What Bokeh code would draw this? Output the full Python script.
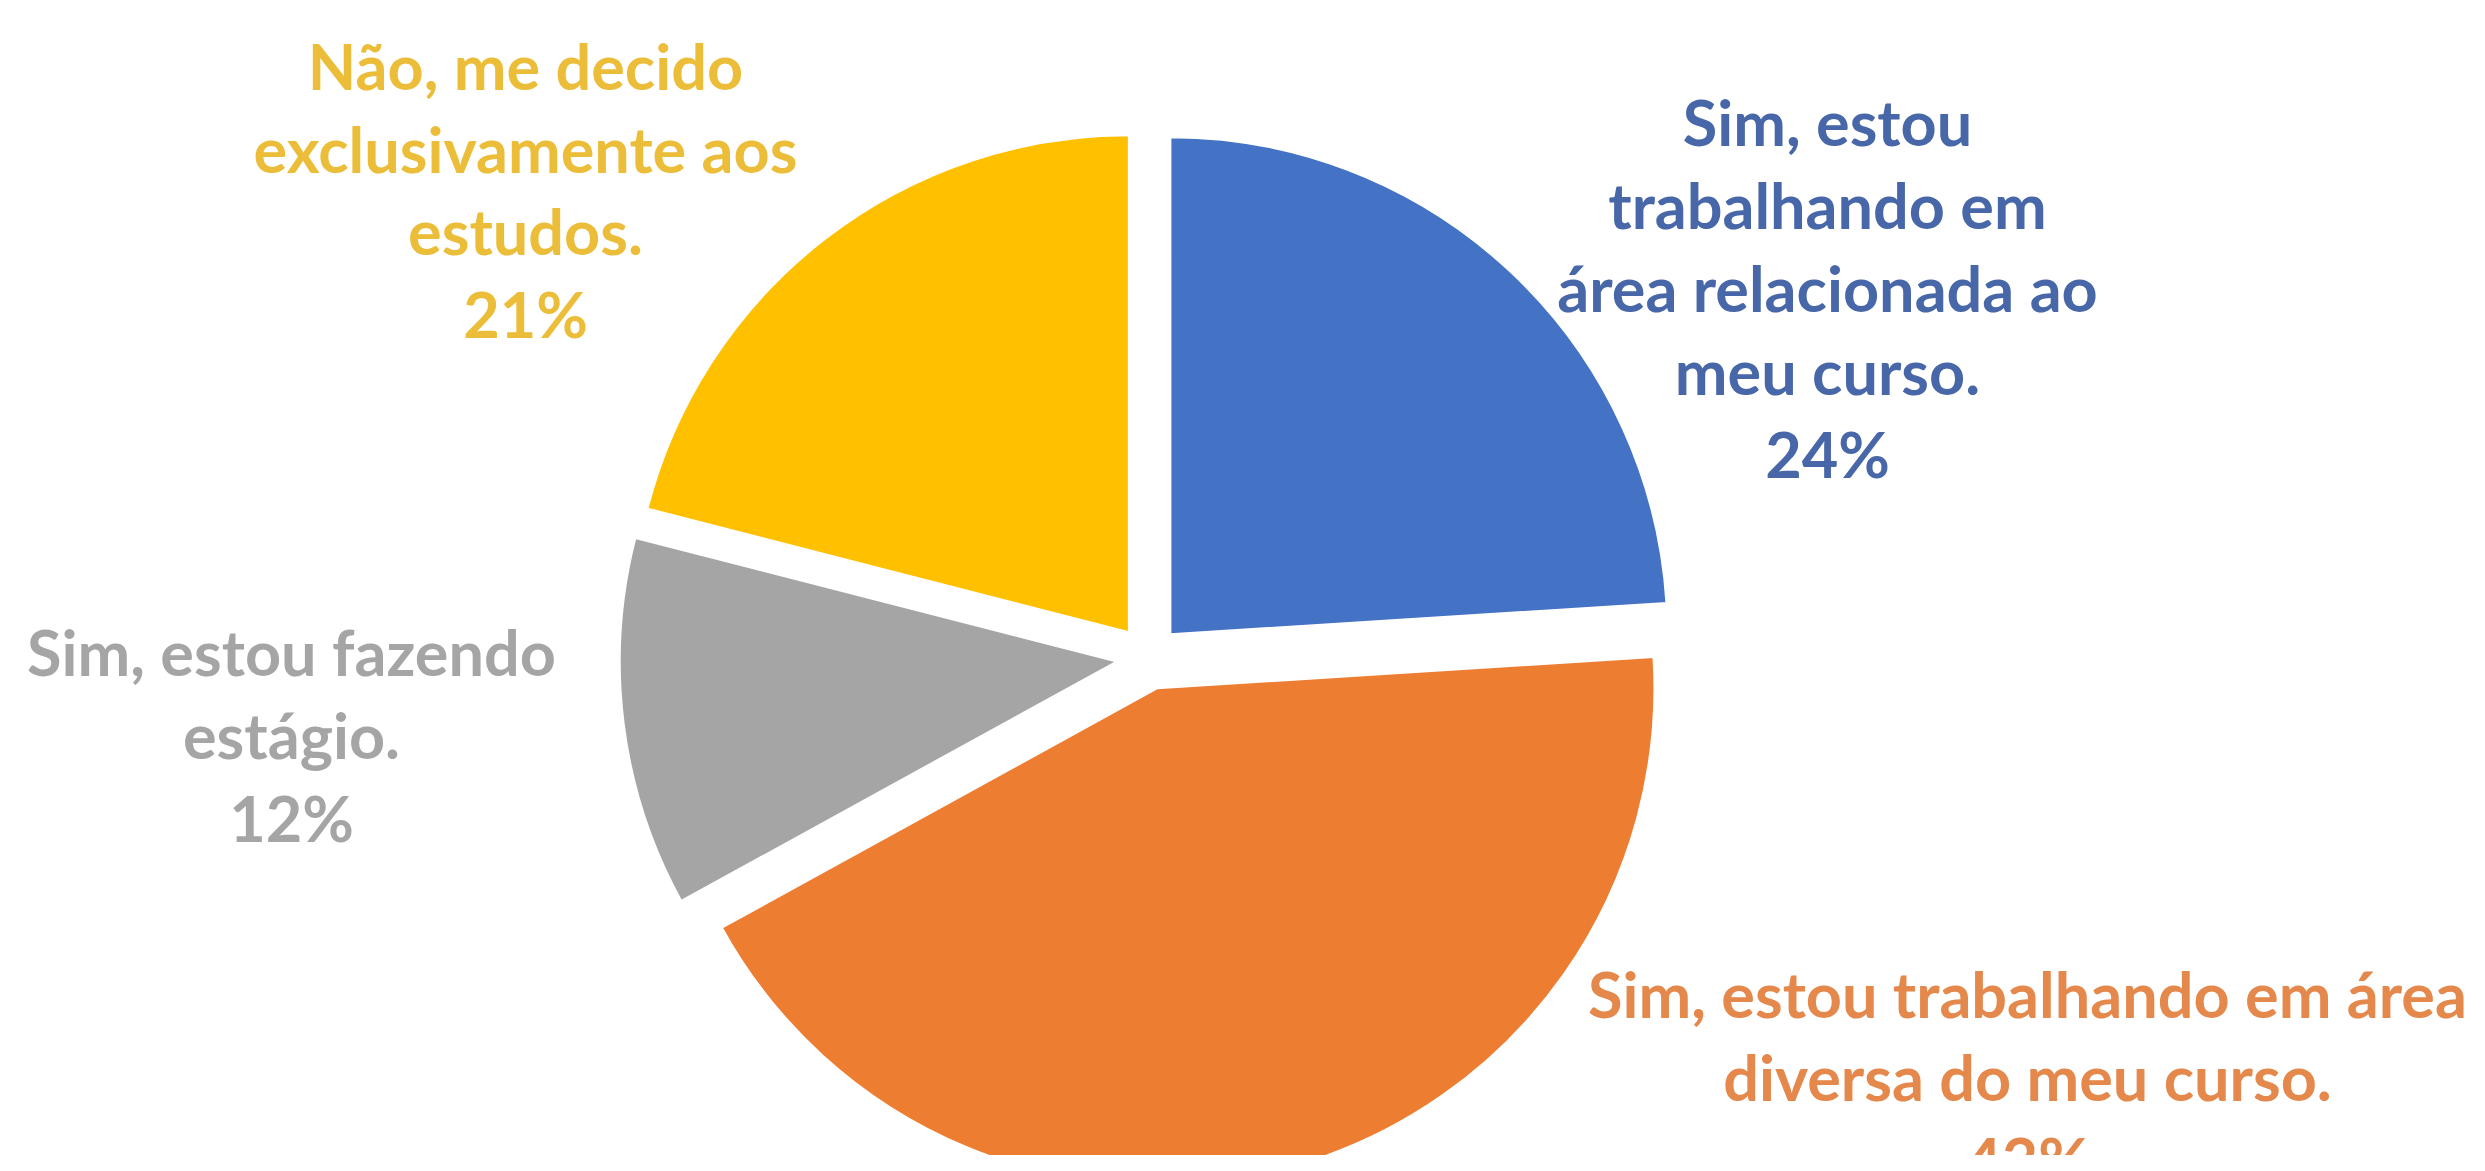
import numpy as np
from bokeh.plotting import figure
from bokeh.models import ColumnDataSource, Range1d
from bokeh.core.properties import value
from bokeh.embed import file_html
from bokeh.resources import INLINE

# ---- data ----
categories = [
    "Sim, estou trabalhando em área relacionada ao meu curso.",
    "Sim, estou trabalhando em área diversa do meu curso.",
    "Sim, estou fazendo estágio.",
    "Não, me decido exclusivamente aos estudos.",
]
label_lines = [
    "Sim, estou\ntrabalhando em\nárea relacionada ao\nmeu curso.",
    "Sim, estou trabalhando em área\ndiversa do meu curso.",
    "Sim, estou fazendo\nestágio.",
    "Não, me decido\nexclusivamente aos\nestudos.",
]
percent = [24, 43, 12, 21]

# ---- styles / layout ----
slice_colors = ["#4472C4", "#ED7D31", "#A5A5A5", "#FFC000"]
label_colors = ["#4767A8", "#E4884C", "#A5A5A5", "#EBBD38"]

W, H = 2469, 1155
def fx(ax):  # page pixel -> data x
    return ax - 8
def fy(ay):  # page pixel -> data y
    return H + 8 - ay

CX, CY = fx(1156), fy(665)
R = 497
EXPLODE = 32
label_pos = [(1835, 295), (2035, 1084), (299, 742), (533, 197)]

vals = np.array(percent, dtype=float)
frac = vals / vals.sum()
cum = np.concatenate([[0], np.cumsum(frac)])
start_top = np.pi / 2
ends = start_top - cum[:-1] * 2 * np.pi
starts = start_top - cum[1:] * 2 * np.pi
mids = (starts + ends) / 2

src = ColumnDataSource(dict(
    x=CX + EXPLODE * np.cos(mids),
    y=CY + EXPLODE * np.sin(mids),
    start=starts, end=ends, color=slice_colors,
))

p = figure(width=W, height=H, output_backend="svg", toolbar_location=None,
           x_range=Range1d(0, W), y_range=Range1d(0, H), min_border=0)
p.axis.visible = False
p.grid.visible = False
p.outline_line_color = None
p.background_fill_color = "white"
p.border_fill_color = "white"

p.wedge(x="x", y="y", radius=R, start_angle="start", end_angle="end",
        fill_color="color", line_color="white", line_width=2, source=src)

texts = [f"{t}\n{v}%" for t, v in zip(label_lines, percent)]
lsrc = ColumnDataSource(dict(
    x=[fx(a) for a, b in label_pos],
    y=[fy(b) for a, b in label_pos],
    text=texts, color=label_colors,
))
p.text(x="x", y="y", text="text", text_color="color", source=lsrc,
       text_font=value("Lato"), text_font_style="bold", text_font_size="63px",
       text_align="center", text_baseline="middle", text_line_height=1.105)

open("out.html", "w").write(file_html(p, INLINE))
